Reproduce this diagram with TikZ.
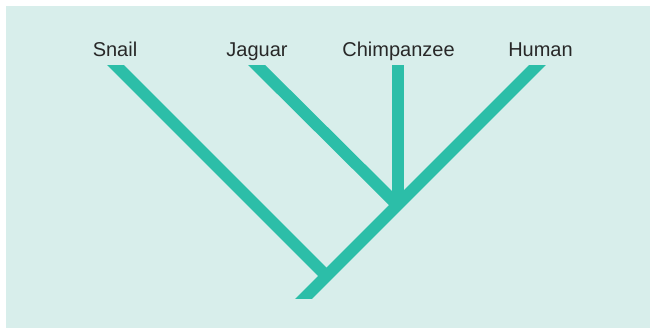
\documentclass[tikz,border=0pt]{standalone}
\usepackage{fontspec}
\setmainfont{Liberation Sans}
\definecolor{bgteal}{RGB}{216,238,235}
\definecolor{branch}{RGB}{44,190,168}
\definecolor{labeltext}{RGB}{40,40,40}
\begin{document}
\begin{tikzpicture}[x=1pt,y=-1pt,
  taxon/.style={anchor=base,font=\fontsize{20}{23}\selectfont,text=labeltext,inner sep=0pt},
  limb/.style={draw=branch,line width=12pt,line cap=butt}]
\useasboundingbox (0,0) rectangle (650,328);
\fill[white] (0,0) rectangle (650,328);
\fill[bgteal] (6,6) rectangle (650,328);
\node[taxon] (snail) at (115,57) {Snail};
\node[taxon] (jaguar) at (257,57) {Jaguar};
\node[taxon] (chimp) at (398.5,57) {Chimpanzee};
\node[taxon] (human) at (540.5,57) {Human};
\coordinate (root) at (293.5,309);
\coordinate (humantip) at (546.5,56);
\coordinate (snailtip) at (106.5,56);
\coordinate (snailjoin) at (326.5,276);
\coordinate (jaguartip) at (247.5,56);
\coordinate (innerjoin) at (397.5,205);
\coordinate (chimptip) at (397.5,56);
\begin{scope}
\clip (0,66) rectangle (650,299);
\draw[limb] (snailtip) -- (snailjoin);
\draw[limb] (jaguartip) -- (innerjoin);
\draw[limb] (chimptip) -- (innerjoin);
\draw[limb] (root) -- (humantip);
\end{scope}
\end{tikzpicture}
\end{document}
